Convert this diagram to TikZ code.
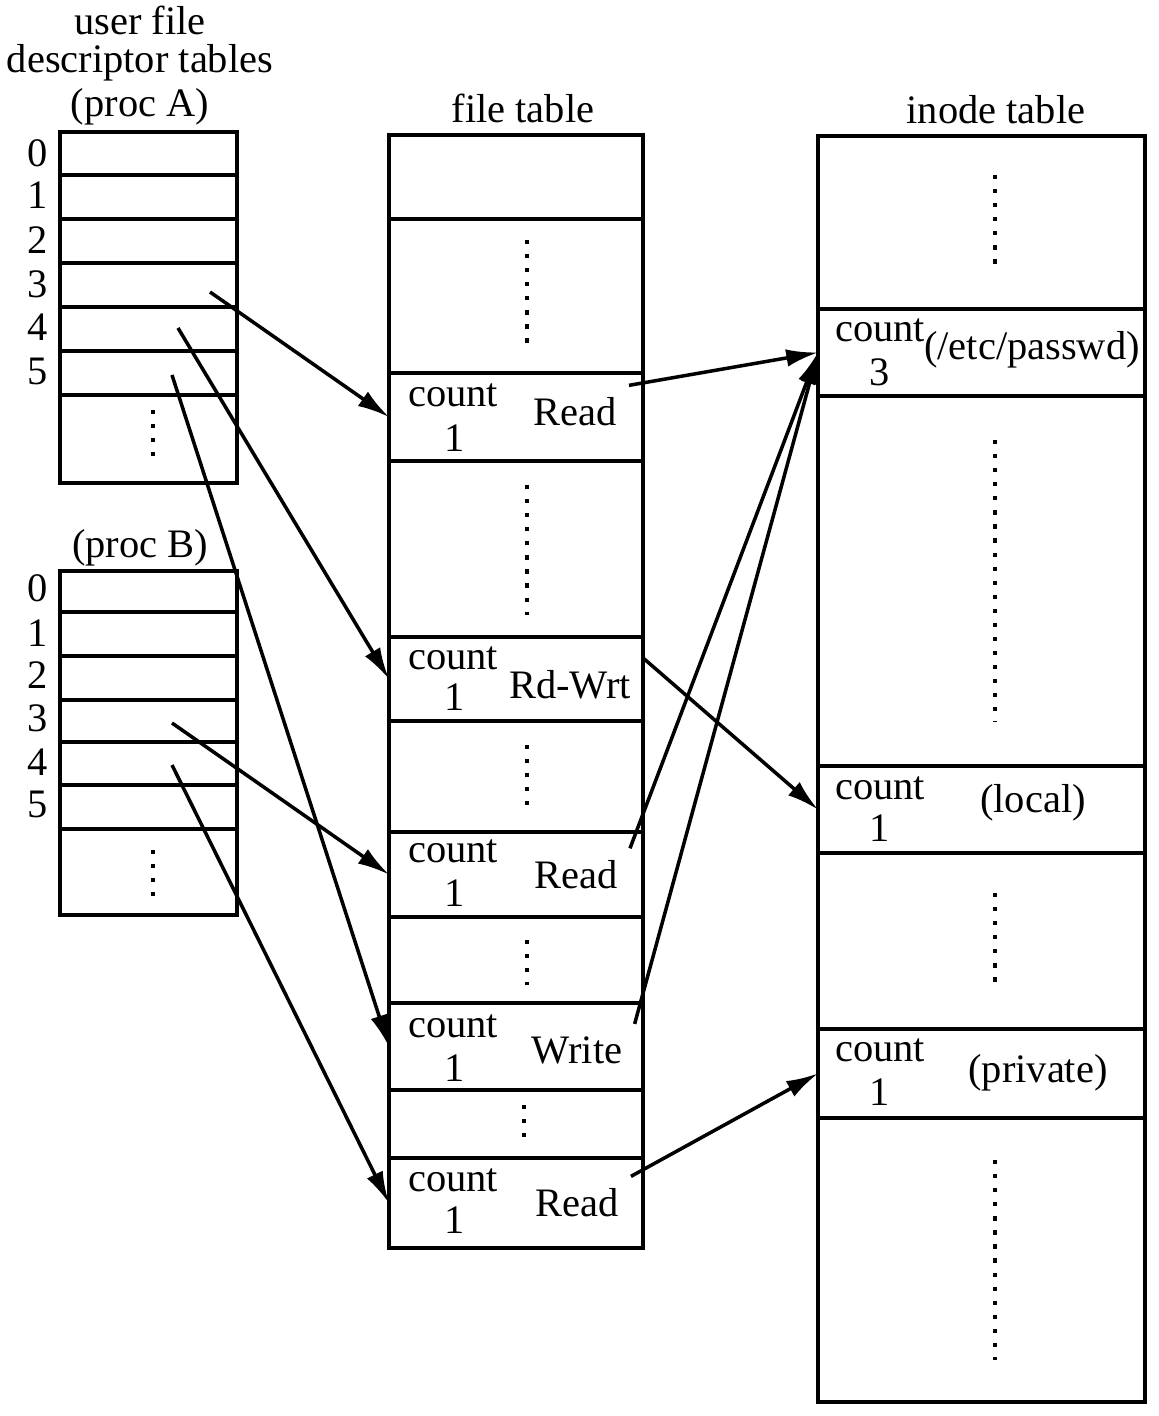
\documentclass[tikz,border=0pt]{standalone}
\usepackage{fontspec}
\setmainfont{Liberation Serif}
\usetikzlibrary{arrows.meta}
\begin{document}
\begin{tikzpicture}[x=0.01cm,y=-0.01cm,
  every node/.style={font=\fontsize{11.5}{13}\selectfont},
  cell/.style={draw,line width=1pt,inner sep=0pt,outer sep=0pt},
  dots/.style={line width=1.3pt,dash pattern=on 1.2pt off 2.8pt},
  ptr/.style={line width=1pt,-{Latex[length=9pt,width=5pt]}}]
\useasboundingbox (0,0) rectangle (1158,1416);

% user file descriptor tables
\node (ua) at (140,20) {user file};
\node (ub) at (140,63) {descriptor\ tables};
\node (pa) at (140,107) {(proc A)};
\foreach \n/\t/\b in {0/132/175,1/175/219,2/219/263,3/263/307,4/307/351,5/351/395,6/395/483}
  \node[cell,minimum width=1.77cm,minimum height={(\b-\t)*0.01cm}] (a\n) at (148.5,{(\t+\b)/2}) {};
\foreach \n/\y in {0/153,1/195,2/240,3/284,4/327,5/371} \node (la\n) at (38,\y) {\n};
\draw[dots] (153,410) -- (153,462);

\node (pb) at (140,548) {(proc B)};
\foreach \n/\t/\b in {0/571/612,1/612/656,2/656/700,3/700/742,4/742/785,5/785/829,6/829/915}
  \node[cell,minimum width=1.77cm,minimum height={(\b-\t)*0.01cm}] (b\n) at (148.5,{(\t+\b)/2}) {};
\foreach \n/\y in {0/588,1/633,2/675,3/718,4/762,5/804} \node (lb\n) at (38,\y) {\n};
\draw[dots] (153,850) -- (153,897);

% file table
\node (tf) at (523,108) {file table};
\foreach \n/\t/\b in {0/135/219,1/219/373,2/373/461,3/461/637,4/637/721,5/721/832,6/832/917,7/917/1003,8/1003/1090,9/1090/1158,10/1158/1248}
  \node[cell,minimum width=2.54cm,minimum height={(\b-\t)*0.01cm}] (f\n) at (516,{(\t+\b)/2}) {};
\foreach \n/\cy/\ny/\x/\y/\s in {1/395/438/575/412/Read,2/658/697/570/685/Rd-Wrt,3/851/893/576/875/Read,4/1026/1068/577/1050/Write,5/1180/1220/577/1203/Read} {
  \node (fc\n) at (453,\cy) {count};
  \node (fn\n) at (455,\ny) {1};
  \node (ft\n) at (\x,\y) {\s};
}
\foreach \x/\ya/\yb in {527/240/352,527/485/615,527/745/810,527/940/985,524/1105/1140}
  \draw[dots] (\x,\ya) -- (\x,\yb);

% inode table
\node (ti) at (996,110) {inode table};
\foreach \n/\t/\b in {0/136/309,1/309/396,2/396/766,3/766/853,4/853/1029,5/1029/1118,6/1118/1402}
  \node[cell,minimum width=3.27cm,minimum height={(\b-\t)*0.01cm}] (i\n) at (981.5,{(\t+\b)/2}) {};
\foreach \n/\cy/\ny/\v/\x/\y/\s in {1/330/372/3/1032/350/{(/etc/passwd)},2/788/828/1/1033/803/{(local)},3/1050/1092/1/1038/1073/{(private)}} {
  \node (ic\n) at (880,\cy) {count};
  \node (in\n) at (880,\ny) {\v};
  \node (im\n) at (\x,\y) {\s};
}
\foreach \ya/\yb in {175/265,440/722,893/985,1160/1360}
  \draw[dots] (995,\ya) -- (995,\yb);

% pointers
\coordinate (sa3) at (210,292);
\coordinate (sa4) at (178,328);
\coordinate (sa5) at (172,375);
\coordinate (sb3) at (172,723);
\coordinate (sb4) at (172,765);
\draw[ptr] (sa3) -- (f2.west);
\draw[ptr] (sa4) -- (f4.west);
\draw[ptr] (sa5) -- (f8.west);
\draw[ptr] (sb3) -- (f6.west);
\draw[ptr] (sb4) -- (f10.west);
\draw[ptr] (ft1.north east) -- (i1.west);
\draw[ptr] (ft2.north east) -- (i3.west);
\draw[ptr] (ft3.north east) -- (i1.west);
\draw[ptr] (ft4.north east) -- (i1.west);
\draw[ptr] (ft5.north east) -- (i5.west);
\end{tikzpicture}
\end{document}
